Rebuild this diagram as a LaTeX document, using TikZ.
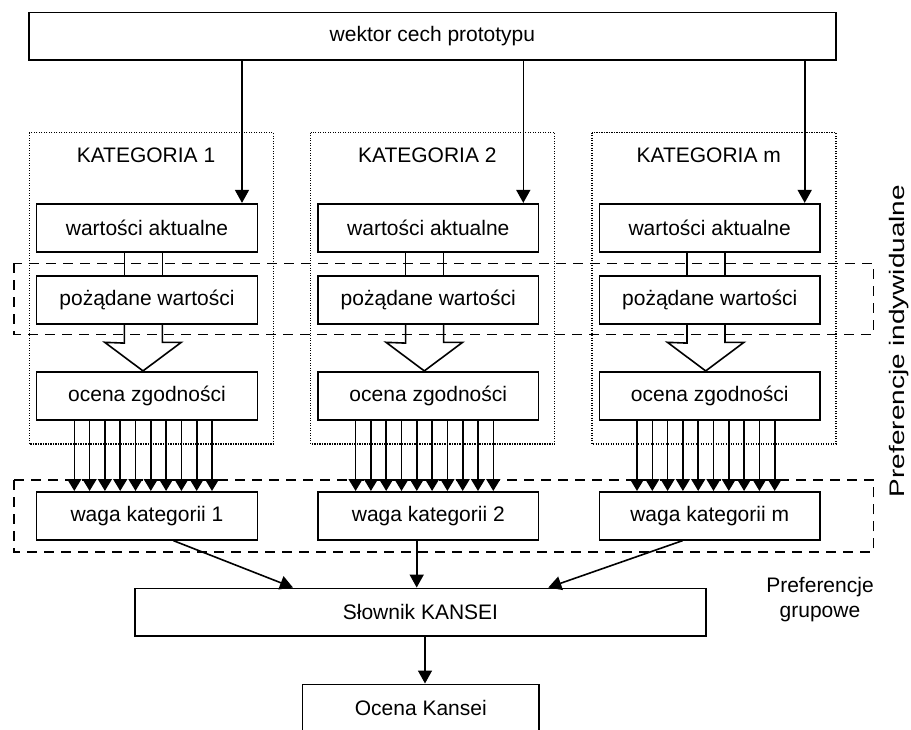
\documentclass[tikz,border=0pt]{standalone}
\usepackage{fontspec}
\setmainfont{Liberation Sans}
\usetikzlibrary{arrows.meta}
\begin{document}
\begin{tikzpicture}[x=1pt,y=-1pt,
  txt/.style={font=\fontsize{21}{24.4}\selectfont},
  box/.style={draw, line width=1.6pt, minimum width=220.7pt, minimum height=48pt, inner sep=0pt, txt},
  lbl/.style={inner sep=0pt, txt},
  arr/.style={line width=1.6pt, -{Triangle[width=14pt,length=13pt]}},
  arrs/.style={line width=1.6pt, -{Triangle[width=14pt,length=12pt]}},
  dashbox/.style={line width=1.6pt, dash pattern=on 10pt off 7pt},
  dotbox/.style={line width=1.2pt, dash pattern=on 1.2pt off 1.3pt},
  hollow/.style={line width=1.6pt}
]
\useasboundingbox (0,0) rectangle (911,729);
\clip (0,0) rectangle (911,729);

% dashed preference boxes
\draw[dashbox] (14,263.3) rectangle (873.3,334.3);
\draw[dashbox] (14,480) rectangle (873.3,552);

\node[box, minimum width=806.7pt, minimum height=47.7pt] (top) at (432.4,36.2) {wektor cech prototypu};

\foreach \i/\c/\lab in {1/147/1, 2/428.3/2, 3/709.7/m}{
  \draw[dotbox] ({\c-117.7},132.7) rectangle ({\c+126.3},444);
  \node[lbl] (kat\i) at ({\c-1},155) {KATEGORIA \lab};
  \node[box] (wa\i) at (\c,227.7) {wartości aktualne};
  \node[box] (pw\i) at (\c,300) {pożądane wartości};
  \node[box] (oz\i) at (\c,395.7) {ocena zgodności};
  \node[box] (wg\i) at (\c,515.8) {waga kategorii \lab};
  % arrow from the top box
  \draw[arr] ([xshift=95pt]wa\i.north |- top.south) -- ([xshift=95pt]wa\i.north);
  % double line between actual and desired values
  \draw[hollow] ([xshift=-22.7pt]wa\i.south) -- ([xshift=-22.7pt]pw\i.north);
  \draw[hollow] ([xshift=15.3pt]wa\i.south) -- ([xshift=15.3pt]pw\i.north);
  % hollow block arrow
  \draw[hollow, line join=miter] ([xshift=-22.7pt]pw\i.south) -- ++(0,18.3) -- ({\c-42.3},342.3)
     -- ([xshift=-4pt]oz\i.north) -- ({\c+34.3},342.3) -- ({\c+15.3},342.3) -- ([xshift=15.3pt]pw\i.south);
  % ten arrows
  \foreach \d in {-72.7,-57.4,-42.1,-26.8,-11.5,3.8,19.1,34.4,49.7,65.0}{
    \draw[arrs] ([xshift=\d pt]oz\i.south) -- ([xshift=\d pt]wg\i.north);
  }
}

\node[box, minimum width=571pt, minimum height=47.7pt] (sl) at (420.5,612.2) {Słownik KANSEI};
\node[box, minimum width=236.3pt, minimum height=48pt] (ok) at (420.8,708.3) {Ocena Kansei};

\draw[arr] ([xshift=26.3pt]wg1.south) -- ([xshift=-127.5pt]sl.north);
\draw[arr] ([xshift=-11.6pt]wg2.south) -- ([xshift=-3.8pt]sl.north);
\draw[arr] ([xshift=-27pt]wg3.south) -- ([xshift=127.8pt]sl.north);
\draw[arr] ([xshift=4.5pt]sl.south) -- ([xshift=4.2pt]ok.north);

\node[lbl, rotate=90] (pind) at (899,341) {\scalebox{1.33}[1]{Preferencje indywidualne}};
\node[lbl, align=center] (pgr) at (820,599.5) {Preferencje\\grupowe};
\end{tikzpicture}
\end{document}
